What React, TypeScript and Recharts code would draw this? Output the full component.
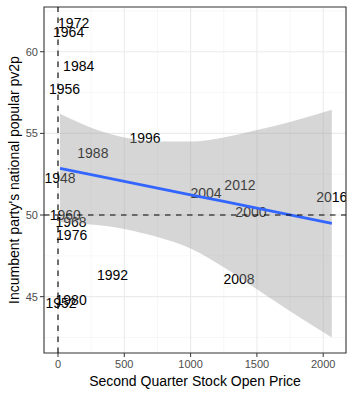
import React from 'react';
import {
  ComposedChart,
  Scatter,
  Area,
  Line,
  XAxis,
  YAxis,
  ReferenceLine,
  ReferenceArea,
} from 'recharts';

const years = [1948, 1952, 1956, 1960, 1964, 1968, 1972, 1976, 1980, 1984, 1988, 1992, 1996, 2000, 2004, 2008, 2012, 2016];
const stockOpen = [15, 23, 49, 55, 80, 98, 118, 103, 99, 156, 263, 411, 656, 1455, 1116, 1365, 1372, 2065];
const pv2p = [52.3, 44.6, 57.7, 50.0, 61.2, 49.6, 61.75, 48.8, 44.8, 59.1, 53.8, 46.35, 54.75, 50.2, 51.35, 46.1, 51.85, 51.1];

// smoother
const smoothX = [15, 250, 500, 750, 1000, 1250, 1500, 1750, 2065];
const smoothFit = [52.86, 52.47, 52.06, 51.65, 51.24, 50.83, 50.42, 50.01, 49.49];
const smoothLo = [49.55, 49.42, 49.15, 48.65, 47.95, 46.8, 45.45, 44.1, 42.5];
const smoothHi = [56.2, 55.35, 54.75, 54.5, 54.5, 54.75, 55.2, 55.7, 56.45];

const xTicks = [0, 500, 1000, 1500, 2000];
const yTicks = [45, 50, 55, 60];
const xMinor = [250, 750, 1250, 1750];
const yMinor = [42.5, 47.5, 52.5, 57.5, 62.5];

const X_DOMAIN: [number, number] = [-105.6, 2172];
const Y_DOMAIN: [number, number] = [41.55, 62.74];

const W = 354;
const H = 396;
const MARGIN = { top: 7, right: 8, bottom: 0, left: 0 };
const Y_AXIS_W = 44;
const X_AXIS_H = 43;

const FONT = '"Liberation Sans", Arial, Helvetica, sans-serif';

const points = years.map((year, i) => ({ year, x: stockOpen[i], y: pv2p[i] }));
const smooth = smoothX.map((x, i) => ({ x, fit: smoothFit[i], band: [smoothLo[i], smoothHi[i]] }));

// labels get clipped to the panel like ggplot does
const YearLabel = (props: any) => {
  const id = 'clip-' + props.payload.year;
  return (
    <g>
      <defs>
        <clipPath id={id}>
          <rect
            x={MARGIN.left + Y_AXIS_W}
            y={MARGIN.top}
            width={W - MARGIN.left - MARGIN.right - Y_AXIS_W}
            height={H - MARGIN.top - MARGIN.bottom - X_AXIS_H}
          />
        </clipPath>
      </defs>
      <text
        x={props.cx}
        y={props.cy}
        dy="0.36em"
        textAnchor="middle"
        fontSize={14}
        fontFamily={FONT}
        fill="#000000"
        clipPath={`url(#${id})`}
      >
        {props.payload.year}
      </text>
    </g>
  );
};

export default function App() {
  return (
    <div style={{ position: 'fixed', left: 0, top: 0, background: '#fff' }}>
      <ComposedChart width={W} height={H} margin={MARGIN}>
        {xMinor.map((v) => (
          <ReferenceLine key={'xm' + v} x={v} stroke="#F2F2F2" strokeWidth={0.6} zIndex={10} />
        ))}
        {yMinor.map((v) => (
          <ReferenceLine key={'ym' + v} y={v} stroke="#F2F2F2" strokeWidth={0.6} zIndex={10} />
        ))}
        {xTicks.map((v) => (
          <ReferenceLine key={'xM' + v} x={v} stroke="#EBEBEB" strokeWidth={1.1} zIndex={10} />
        ))}
        {yTicks.map((v) => (
          <ReferenceLine key={'yM' + v} y={v} stroke="#EBEBEB" strokeWidth={1.1} zIndex={10} />
        ))}
        <XAxis
          type="number"
          dataKey="x"
          domain={X_DOMAIN}
          allowDataOverflow
          ticks={xTicks}
          height={X_AXIS_H}
          axisLine={false}
          tickSize={4}
          tickMargin={3}
          tickLine={{ stroke: '#333333' }}
          tick={{ fill: '#4D4D4D', fontSize: 11, fontFamily: FONT }}
          label={{
            value: 'Second Quarter Stock Open Price',
            position: 'insideBottom',
            offset: 10,
            fill: '#000000',
            fontSize: 14,
            fontFamily: FONT,
          }}
        />
        <YAxis
          type="number"
          domain={Y_DOMAIN}
          allowDataOverflow
          ticks={yTicks}
          width={Y_AXIS_W}
          axisLine={false}
          tickSize={4}
          tickMargin={2}
          tickLine={{ stroke: '#333333' }}
          tick={{ fill: '#4D4D4D', fontSize: 11, fontFamily: FONT }}
          label={{
            value: "Incumbent party's national popular pv2p",
            angle: -90,
            position: 'insideLeft',
            offset: 14,
            fill: '#000000',
            fontSize: 14,
            fontFamily: FONT,
            style: { textAnchor: 'middle' },
          }}
        />
        <Scatter data={points} dataKey="y" shape={YearLabel} isAnimationActive={false} zIndex={50} />
        <Area
          data={smooth}
          dataKey="band"
          type="monotone"
          stroke="none"
          fill="#999999"
          fillOpacity={0.4}
          isAnimationActive={false}
          activeDot={false}
          zIndex={100}
        />
        <Line
          data={smooth}
          dataKey="fit"
          type="linear"
          stroke="#3366FF"
          strokeWidth={2.8}
          dot={false}
          activeDot={false}
          isAnimationActive={false}
        />
        <ReferenceLine x={0} stroke="#000000" strokeWidth={1.1} strokeDasharray="5.5 5.5" />
        <ReferenceLine y={50} stroke="#000000" strokeWidth={1.1} strokeDasharray="5.5 5.5" />
        <ReferenceArea
          x1={X_DOMAIN[0]}
          x2={X_DOMAIN[1]}
          y1={Y_DOMAIN[0]}
          y2={Y_DOMAIN[1]}
          fill="none"
          stroke="#333333"
          strokeWidth={1.1}
        />
      </ComposedChart>
    </div>
  );
}
